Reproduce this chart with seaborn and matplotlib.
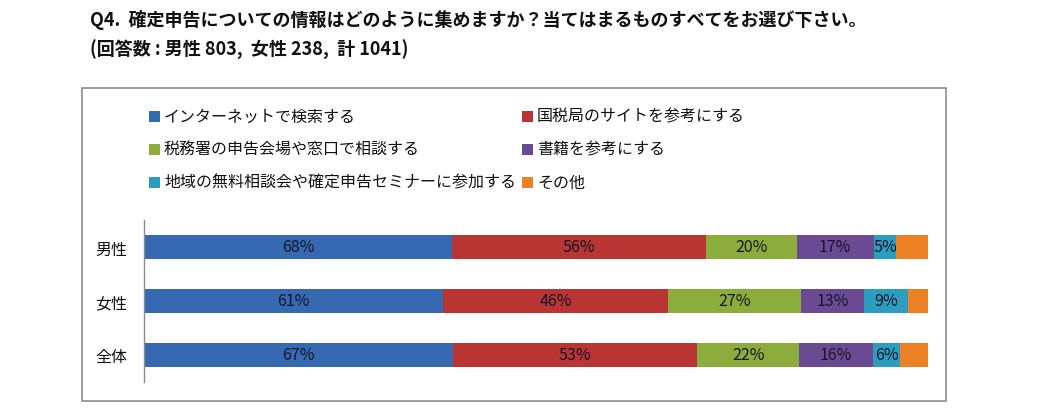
import numpy as np
import pandas as pd
import seaborn as sns
import matplotlib.pyplot as plt
from matplotlib.patches import Rectangle

# ---- data ----
categories = ['男性', '女性', '全体']
series = ['インターネットで検索する', '国税局のサイトを参考にする',
          '税務署の申告会場や窓口で相談する', '書籍を参考にする',
          '地域の無料相談会や確定申告セミナーに参加する', 'その他']
male = [68, 56, 20, 17, 5, 7]
female = [61, 46, 27, 13, 9, 4]
total = [67, 53, 22, 16, 6, 6]
show_label = [True, True, True, True, True, False]

title = 'Q4.  確定申告についての情報はどのように集めますか？当てはまるものすべてをお選び下さい。'
subtitle = '(回答数 : 男性 803,  女性 238,  計 1041)'

colors = ['#356AB2', '#B93534', '#8CAD3B', '#6B4A94', '#2C9DBF', '#EC8024']

sns.set_theme(style='white')
plt.rcParams['font.family'] = ['Noto Sans CJK JP', 'DejaVu Sans']

W, H = 1045, 414
fig = plt.figure(figsize=(W / 100, H / 100), dpi=100)


def fx(px):
    return px / W


def fy(py):
    return 1 - py / H


vals = np.array([male, female, total], dtype=float)
shares = vals / vals.sum(axis=1, keepdims=True)
cums = np.cumsum(shares, axis=1)

ax = fig.add_axes([fx(144), fy(383), fx(928) - fx(144), fy(221) - fy(383)])

for i in reversed(range(len(series))):
    d = pd.DataFrame({'category': categories, 'cum': cums[:, i]})
    sns.barplot(data=d, x='cum', y='category', order=categories, color=colors[i],
                width=0.44, saturation=1, orient='h', ax=ax, edgecolor='none')

for r, cat in enumerate(categories):
    for i in range(len(series)):
        if not show_label[i]:
            continue
        c = cums[r, i] - shares[r, i] / 2
        ax.text(c, r, f'{int(vals[r, i])}%', ha='center', va='center',
                fontsize=11.5, color='#16162a')

ax.set_xlim(0, 1)
ax.set_ylim(2.5, -0.5)
ax.set_xlabel('')
ax.set_ylabel('')
ax.set_xticks([])
for s in ['top', 'right', 'bottom']:
    ax.spines[s].set_visible(False)
ax.spines['left'].set_color('#8a8a8a')
ax.spines['left'].set_linewidth(1)
ax.tick_params(axis='y', length=0, pad=12, labelsize=11.5, labelcolor='#111111')
ax.set_facecolor('none')

# frame
fig.add_artist(Rectangle((fx(82), fy(402)), fx(946) - fx(82), fy(89) - fy(402),
                         transform=fig.transFigure, fill=False,
                         edgecolor='#8c8c8c', lw=1.2))

# legend (manual, 2 columns x 3 rows)
col_x = [149, 522]
row_y = [117, 150, 183]
for k, name in enumerate(series):
    r, c = k // 2, k % 2
    x0, y0 = col_x[c], row_y[r]
    fig.add_artist(Rectangle((fx(x0), fy(y0 + 5.5)), fx(11), 11 / H,
                             transform=fig.transFigure, facecolor=colors[k],
                             edgecolor='none'))
    fig.text(fx(x0 + 15), fy(y0), name, fontsize=11.5, va='center', ha='left',
             color='#111111')

fig.text(fx(90), fy(20), title, fontsize=13, fontweight='bold', va='center',
         ha='left', color='#111111')
fig.text(fx(90), fy(50), subtitle, fontsize=13, fontweight='bold', va='center',
         ha='left', color='#111111')

fig.savefig('out.png', dpi=100)
